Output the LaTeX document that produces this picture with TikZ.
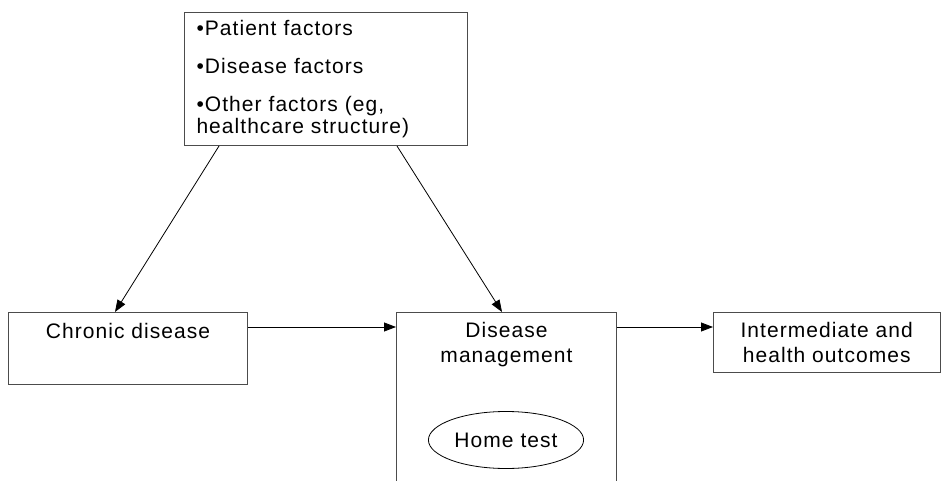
\documentclass[tikz,border=0pt]{standalone}
\usepackage{fontspec}
\setmainfont{Liberation Sans}[LetterSpace=5]
\usepackage{tikz}
\usetikzlibrary{arrows.meta,positioning,shapes.geometric}

\begin{document}
\begin{tikzpicture}[x=1pt,y=-1pt,
    box/.style={draw=black!70,line width=1pt,rectangle,inner sep=0pt},
    txt/.style={font=\fontsize{21}{25}\selectfont,align=center,inner sep=0pt},
    arr/.style={draw=black,line width=0.8pt,-{Triangle[length=12pt,width=9pt]}}]
\useasboundingbox (0,0) rectangle (941,481);
\clip (0,0) rectangle (941,481);
\node[box,anchor=north west,minimum width=283pt,minimum height=133pt,
      text width=259pt,align=left,font=\fontsize{21}{22}\selectfont] (factors) at (184,12)
      {•Patient factors\\[16pt]•Disease factors\\[16pt]•Other factors (eg,\\healthcare structure)};
\node[box,anchor=north west,minimum width=239pt,inner ysep=6pt,text height=20pt,text depth=40pt,
      font=\fontsize{21}{25}\selectfont] (chronic) at (8,312) {Chronic disease};
\node[box,anchor=north west,minimum width=220pt,minimum height=200pt] (dm) at (396,312) {};
\node[txt,below=10pt of dm.north] (dmtext) {Disease\\management};
\node[draw=black,line width=0.8pt,ellipse,minimum width=150pt,minimum height=57pt,
      font=\fontsize{21}{25}\selectfont] (home) at (506,440) {Home test};
\node[box,txt,anchor=north west,minimum width=226.5pt,minimum height=60pt] (outcome) at (713,312)
      {Intermediate and\\health outcomes};
\draw[arr] ([xshift=35pt]factors.south west) -- ([xshift=107pt]chronic.north west);
\draw[arr] ([xshift=213pt]factors.south west) -- ([xshift=106pt]dm.north west);
\draw[arr] ([yshift=-15pt]chronic.north east) -- ([yshift=-15pt]dm.north west);
\draw[arr] ([yshift=-15pt]dm.north east) -- ([yshift=-15pt]outcome.north west);
\end{tikzpicture}
\end{document}
